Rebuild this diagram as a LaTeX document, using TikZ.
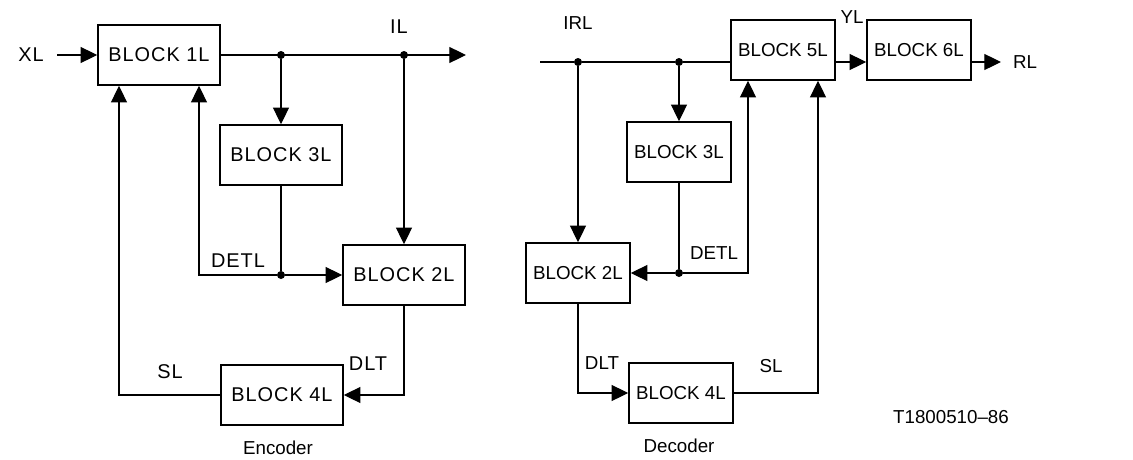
\documentclass[tikz,border=0pt]{standalone}
\usepackage{fontspec}
\setmainfont{Liberation Sans}
\usetikzlibrary{arrows.meta}

\begin{document}
\begin{tikzpicture}[x=0.3mm,y=-0.3mm]
\tikzset{
  encfont/.style={font=\fontsize{17}{20}\selectfont\addfontfeatures{LetterSpace=5}},
  decfont/.style={font=\fontsize{16}{19}\selectfont},
  blocknode/.style={rectangle,draw=black,line width=1.3pt,inner sep=2pt},
  encblock/.style={blocknode,encfont,minimum width=36.6mm,minimum height=18mm},
  decblock/.style={blocknode,decfont,minimum width=31.2mm,minimum height=18mm},
  sigline/.style={draw=black,line width=1pt},
  sigarrow/.style={sigline,-{Triangle[length=5mm,width=4.8mm]}},
  jdot/.style={circle,fill=black,inner sep=0pt,minimum size=2.4mm},
  sigtext/.style={inner sep=0pt}
}
\useasboundingbox (0,0) rectangle (1133,459);
% encoder
\node[encblock] (e_b1) at (159,55) {BLOCK 1L};
\node[encblock] (e_b3) at (281,155) {BLOCK 3L};
\node[encblock] (e_b2) at (404,275) {BLOCK 2L};
\node[encblock] (e_b4) at (282,395) {BLOCK 4L};
\node[jdot] (e_d1) at (281,55) {};
\node[jdot] (e_d2) at (404,55) {};
\node[jdot] (e_d3) at (281,275) {};
\coordinate (e_in) at (57,55);
\coordinate (e_out) at (466,55);
\coordinate (e_c1) at (199,275);
\coordinate (e_c2) at (119,395);
\node[sigtext,encfont] (e_xl) at (31,55) {XL};
\node[sigtext,encfont] (e_il) at (399,27) {IL};
\node[sigtext,encfont] (e_detl) at (238,261) {DETL};
\node[sigtext,encfont] (e_dlt) at (368,364) {DLT};
\node[sigtext,encfont] (e_sl) at (170,372) {SL};
\node[sigtext,font=\fontsize{16}{19}\selectfont] (e_name) at (278,448) {Encoder};
\draw[sigarrow] (e_in) -- (e_b1);
\draw[sigarrow] (e_b1) -- (e_out);
\draw[sigarrow] (e_d1) -- (e_b3);
\draw[sigarrow] (e_d2) -- (e_b2);
\draw[sigline] (e_b3) -- (e_d3);
\draw[sigarrow] (e_d3) -- (e_b2);
\draw[sigarrow] (e_d3) -- (e_c1) -- (e_c1 |- e_b1.south);
\draw[sigarrow] (e_b2) |- (e_b4);
\draw[sigarrow] (e_b4) -- (e_c2) -- (e_c2 |- e_b1.south);
% decoder
\node[decblock] (d_b5) at (783,50) {BLOCK 5L};
\node[decblock] (d_b6) at (919,50) {BLOCK 6L};
\node[decblock] (d_b3) at (679,152) {BLOCK 3L};
\node[decblock] (d_b2) at (578,273) {BLOCK 2L};
\node[decblock] (d_b4) at (681,393) {BLOCK 4L};
\node[jdot] (d_d1) at (578,62) {};
\node[jdot] (d_d2) at (679,62) {};
\node[jdot] (d_d3) at (679,273) {};
\coordinate (d_in) at (540,62);
\coordinate (d_out) at (1001,62);
\coordinate (d_c1) at (748,273);
\coordinate (d_c2) at (818,393);
\node[sigtext,decfont] (d_irl) at (578,23) {IRL};
\node[sigtext,decfont] (d_yl) at (852,17) {YL};
\node[sigtext,decfont] (d_rl) at (1025,62) {RL};
\node[sigtext,decfont] (d_detl) at (714,253) {DETL};
\node[sigtext,decfont] (d_dlt) at (602,363) {DLT};
\node[sigtext,decfont] (d_sl) at (771,366) {SL};
\node[sigtext,decfont] (d_name) at (679,446) {Decoder};
\node[sigtext,decfont] (d_ref) at (951,417) {T1800510--86};
\draw[sigline] (d_in) -- (d_d1) -- (d_d2) -- (d_b5.west |- d_d2);
\draw[sigarrow] (d_b5.east |- d_d2) -- (d_b6.west |- d_d2);
\draw[sigarrow] (d_b6.east |- d_d2) -- (d_out);
\draw[sigarrow] (d_d2) -- (d_b3);
\draw[sigarrow] (d_d1) -- (d_b2);
\draw[sigline] (d_b3) -- (d_d3);
\draw[sigarrow] (d_d3) -- (d_b2);
\draw[sigarrow] (d_d3) -- (d_c1) -- (d_c1 |- d_b5.south);
\draw[sigarrow] (d_b2) |- (d_b4);
\draw[sigarrow] (d_b4) -- (d_c2) -- (d_c2 |- d_b5.south);
\end{tikzpicture}
\end{document}
